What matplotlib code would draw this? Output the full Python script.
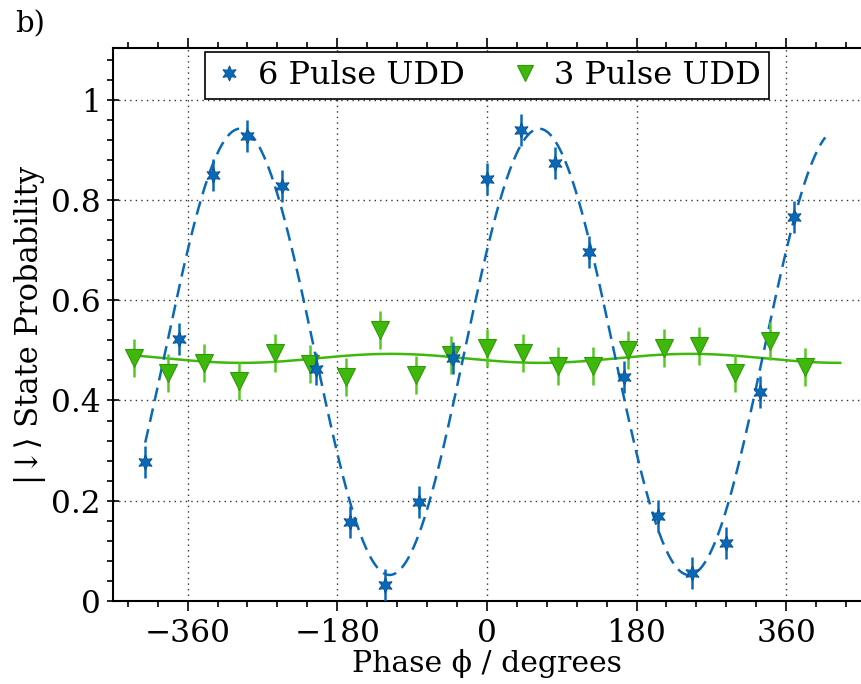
import numpy as np
import matplotlib
matplotlib.use("Agg")
import matplotlib.pyplot as plt
from matplotlib.lines import Line2D
from matplotlib.ticker import MultipleLocator, FixedLocator

# 6 pulse UDD (blue stars)
phase6 = [-411, -370, -329, -288, -247, -206, -165, -123, -82, -41,
          0, 41, 82, 123, 165, 206, 247, 288, 329, 370]
prob6 = [0.277, 0.522, 0.849, 0.927, 0.828, 0.463, 0.158, 0.032, 0.197, 0.485,
         0.841, 0.939, 0.873, 0.696, 0.447, 0.170, 0.056, 0.115, 0.417, 0.766]
err6 = [0.032] * len(phase6)

# 3 pulse UDD (green triangles)
phase3 = [-425, -383, -340, -298, -255, -213, -170, -128, -85, -43,
          0, 43, 85, 128, 170, 213, 255, 298, 340, 383]
prob3 = [0.485, 0.455, 0.474, 0.438, 0.494, 0.473, 0.447, 0.540, 0.450, 0.490,
         0.504, 0.494, 0.469, 0.469, 0.500, 0.504, 0.508, 0.454, 0.518, 0.467]
err3 = [0.038] * len(phase3)

# fitted cosine parameters (offset, amplitude, phase of max, range)
fit6 = dict(offset=0.497, amp=0.445, peak=63, lo=-411, hi=407)
fit3 = dict(offset=0.484, amp=0.009, peak=245, lo=-425, hi=425)

BLUE = "#0a69b6"
GREEN = "#3fb80c"

plt.rcParams["font.family"] = ["DejaVu Serif", "DejaVu Sans"]


def fit_curve(p):
    x = np.linspace(p["lo"], p["hi"], 400)
    return x, p["offset"] + p["amp"] * np.cos(np.radians(x - p["peak"]))


fig = plt.figure(figsize=(8.61, 6.84), dpi=100)
ax = fig.add_axes([0.131, 0.1213, 0.869, 0.8085])

x, y = fit_curve(fit3)
ax.plot(x, y, color=GREEN, lw=1.8, zorder=2)
x, y = fit_curve(fit6)
ax.plot(x, y, color=BLUE, lw=1.8, ls=(0, (5.5, 3)), zorder=2)

ax.errorbar(phase3, prob3, yerr=err3, fmt="v", color=GREEN, ecolor="#55c922",
            elinewidth=1.8, capsize=0, ms=13, mec="#2f9a08", mew=0.8, zorder=3)
ax.errorbar(phase6, prob6, yerr=err6, fmt="none", ecolor=BLUE, elinewidth=1.8,
            capsize=0, zorder=4)
ax.plot(phase6, prob6, ls="none", marker=(6, 1, 0), ms=11, color=BLUE,
        mec="#08508e", mew=0.6, zorder=5)

ax.set_xlim(-450, 450)
ax.set_ylim(0, 1.103)
ax.xaxis.set_major_locator(FixedLocator([-360, -180, 0, 180, 360]))
ax.xaxis.set_minor_locator(MultipleLocator(36))
ax.yaxis.set_major_locator(FixedLocator([0, 0.2, 0.4, 0.6, 0.8, 1.0]))
ax.set_yticklabels(["0", "0.2", "0.4", "0.6", "0.8", "1"])
ax.yaxis.set_minor_locator(MultipleLocator(0.04))
ax.tick_params(which="both", direction="out", top=True, labelsize=22.5, width=1.2)
ax.tick_params(which="major", length=7)
ax.tick_params(which="minor", length=4)
ax.tick_params(axis="x", which="major", pad=5)
ax.tick_params(axis="y", which="major", direction="inout", length=9, pad=4)
ax.spines["right"].set_visible(False)
for s in ("left", "bottom", "top"):
    ax.spines[s].set_linewidth(1.5)
ax.grid(True, which="major", ls=(0, (1, 3)), color="#333333", lw=1.0)

ax.set_xlabel("Phase ϕ / degrees", fontsize=21.5, labelpad=0)
ax.set_ylabel("|↓⟩ State Probability", fontsize=22, labelpad=4)

handles = [
    Line2D([], [], ls="none", marker=(6, 1, 0), ms=11, color=BLUE, mec="#08508e", mew=0.6),
    Line2D([], [], ls="none", marker="v", ms=11, color=GREEN, mec="#2f9a08", mew=0.8),
]
leg = ax.legend(handles, ["6 Pulse UDD", "3 Pulse UDD"], loc="upper center",
                bbox_to_anchor=(0.5, 1.0), ncol=2, fontsize=23, frameon=True,
                fancybox=False, edgecolor="black", framealpha=1, handlelength=1.0,
                handletextpad=0.4, columnspacing=1.4, borderpad=0.25,
                borderaxespad=0.12)
leg.get_frame().set_linewidth(1.2)

fig.text(0.018, 0.985, "b)", fontsize=21, va="top", ha="left")

fig.savefig("out.png", dpi=100)
